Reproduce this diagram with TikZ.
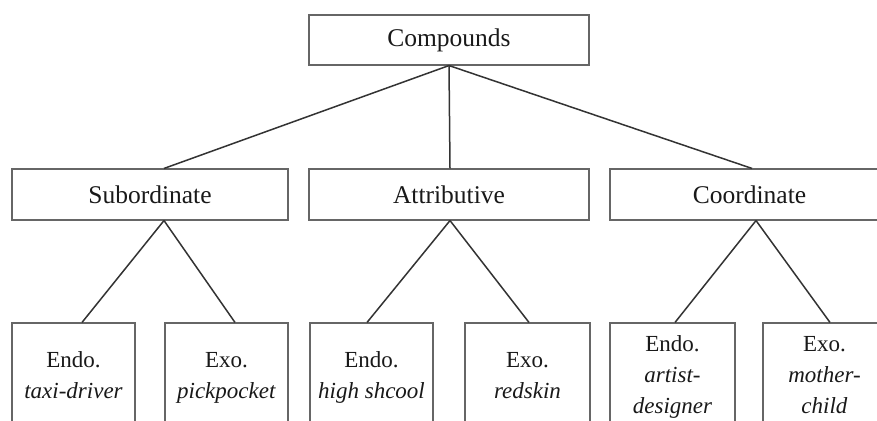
\documentclass[tikz,border=0pt]{standalone}
\usepackage{fontspec}
\setmainfont{Liberation Serif}
\begin{document}
\begin{tikzpicture}[x=1pt,y=-1pt,
  box/.style={draw=black!60,line width=1.1pt,inner sep=0pt,text=black!90,align=center},
  upper/.style={box,minimum height=50pt,font=\fontsize{25.5}{31}\selectfont},
  leaf/.style={box,minimum height=107pt,font=\fontsize{23}{31}\selectfont},
  link/.style={draw=black!80,line width=1.5pt}]
\useasboundingbox (0,0) rectangle (877,420);
\clip (0,0) rectangle (877,420);
\fill[white] (0,0) rectangle (877,420);
% level 1
\node[upper,minimum width=280pt] (comp) at (449,40) {Compounds};
% level 2
\node[upper,minimum width=276pt,minimum height=51pt] (sub) at (150,194.5) {Subordinate};
\node[upper,minimum width=280pt,minimum height=51pt] (attr) at (449,194.5) {Attributive};
\node[upper,minimum width=279pt,minimum height=51pt] (coord) at (749.5,194.5) {Coordinate};
% level 3
\node[leaf,minimum width=123pt] (b1) at (73.5,376.5) {\strut Endo.\\\textit{taxi-driver}\strut};
\node[leaf,minimum width=123pt] (b2) at (226.5,376.5) {\strut Exo.\\\textit{pickpocket}\strut};
\node[leaf,minimum width=123pt] (b3) at (371.5,376.5) {\strut Endo.\\\textit{high shcool}\strut};
\node[leaf,minimum width=125pt] (b4) at (527.5,376.5) {\strut Exo.\\\textit{redskin}\strut};
\node[leaf,minimum width=125pt] (b5) at (672.5,376.5) {\strut Endo.\\\textit{artist-}\\\textit{designer}\strut};
\node[leaf,minimum width=123pt] (b6) at (824.5,376.5) {\strut Exo.\\\textit{mother-}\\\textit{child}\strut};
% connectors
\draw[link] (comp.south) -- ([xshift=14pt]sub.north);
\draw[link] (comp.south) -- ([xshift=1pt]attr.north);
\draw[link] (comp.south) -- ([xshift=2.5pt]coord.north);
\draw[link] ([xshift=14pt]sub.south) -- ([xshift=8.5pt]b1.north);
\draw[link] ([xshift=14pt]sub.south) -- ([xshift=8.5pt]b2.north);
\draw[link] ([xshift=1pt]attr.south) -- ([xshift=-4.5pt]b3.north);
\draw[link] ([xshift=1pt]attr.south) -- ([xshift=1.5pt]b4.north);
\draw[link] ([xshift=6.5pt]coord.south) -- ([xshift=2.5pt]b5.north);
\draw[link] ([xshift=6.5pt]coord.south) -- ([xshift=5.5pt]b6.north);
\end{tikzpicture}
\end{document}
